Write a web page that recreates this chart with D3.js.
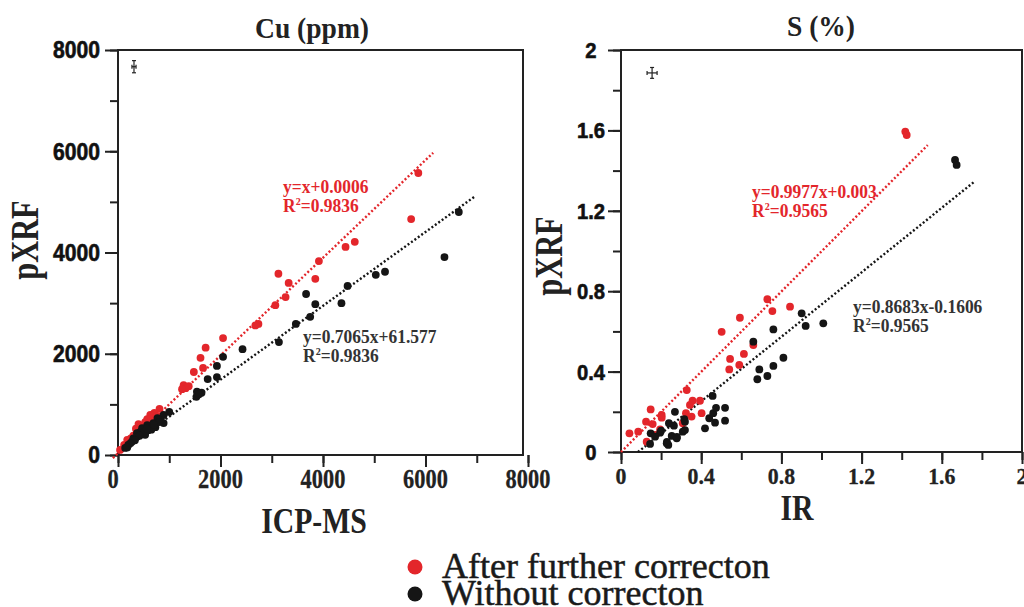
<!DOCTYPE html>
<html>
<head>
<meta charset="utf-8">
<script src="https://cdnjs.cloudflare.com/ajax/libs/d3/7.8.5/d3.min.js"></script>
<style>
    body { margin: 0; background: #fff; }
    svg { display: block; }
</style>
</head>
<body>
<div id="chart"></div>
<script>
// Cu (ppm): [ICP-MS, pXRF]
var cuAfter = [
    [5860, 5570], [5720, 4660], [4620, 4210], [4440, 4110], [3920, 3830], [3850, 3480],
    [3130, 3580], [3330, 3400], [3270, 3120], [3070, 2960], [2740, 2590], [2680, 2560],
    [2050, 2310], [1710, 2120], [1610, 1920], [1660, 1720], [1480, 1640], [1280, 1380],
    [1320, 1320], [1380, 1360], [1250, 1300],
    [810, 910], [710, 830], [750, 770], [630, 790], [570, 710], [530, 650], [690, 710],
    [470, 550], [410, 510], [400, 610], [370, 450], [300, 380], [180, 300], [120, 200],
    [40, 100], [480, 500], [600, 620], [350, 520], [250, 330], [560, 560]
];
var cuWithout = [
    [6650, 4800], [6370, 3910], [5210, 3620], [5030, 3560], [4480, 3340], [4360, 3000],
    [3850, 2980], [3670, 3180], [3750, 2730], [3470, 2590], [3140, 2230], [2430, 2090],
    [2050, 1940], [1930, 1760], [1930, 1540], [1750, 1500], [1540, 1250], [1630, 1230],
    [1530, 1150], [1580, 1200],
    [1000, 850], [890, 790], [890, 630], [830, 690], [770, 730], [690, 630], [630, 550],
    [570, 590], [490, 490], [430, 450], [530, 400], [370, 360], [300, 330], [270, 260],
    [200, 200], [140, 140], [370, 430], [470, 530], [590, 490], [730, 550], [650, 500],
    [520, 470], [420, 380], [330, 290], [240, 230], [180, 150], [800, 650], [560, 520], [700, 600]
];
// fitted lines, end points
var cuFitAfter = [[-100, -60], [6150, 5970]];
var cuFitWithout = [[0, 30], [6980, 5120]];
var cuEqAfter = ["y=x+0.0006", "0.9836"];
var cuEqWithout = ["y=0.7065x+61.577", "0.9836"];
var cuErr = [312, 7670, 40, 120]; // x, y, half width x, half width y
var cuTicks = [0, 1000, 2000, 3000, 4000, 5000, 6000, 7000, 8000];
var cuLabels = [0, 2000, 4000, 6000, 8000];

// S (%): [IR, pXRF]
var sAfter = [
    [0.042, 0.093], [0.086, 0.101], [0.125, 0.151], [0.148, 0.212], [0.158, 0.139],
    [0.128, 0.051], [0.17, 0.085], [0.203, 0.184], [0.203, 0.171], [0.195, 0.113],
    [0.328, 0.308], [0.324, 0.193], [0.308, 0.143], [0.344, 0.234], [0.357, 0.255],
    [0.352, 0.176], [0.394, 0.255], [0.402, 0.193], [0.502, 0.598], [0.544, 0.463],
    [0.540, 0.411], [0.593, 0.668], [0.590, 0.433], [0.613, 0.488], [0.660, 0.532],
    [0.730, 0.760], [0.755, 0.701], [0.843, 0.723], [1.418, 1.594], [1.425, 1.577]
];
var sWithout = [
    [0.148, 0.093], [0.145, 0.040], [0.195, 0.096], [0.17, 0.076], [0.239, 0.143],
    [0.269, 0.200], [0.264, 0.131], [0.228, 0.043], [0.236, 0.035], [0.253, 0.080],
    [0.278, 0.068], [0.308, 0.101], [0.316, 0.163], [0.319, 0.151], [0.419, 0.118],
    [0.440, 0.168], [0.457, 0.279], [0.460, 0.193], [0.469, 0.146], [0.474, 0.220],
    [0.519, 0.220], [0.519, 0.156], [0.66, 0.549], [0.68, 0.362], [0.69, 0.411],
    [0.73, 0.378], [0.76, 0.610], [0.76, 0.428], [0.81, 0.469], [0.901, 0.690],
    [0.921, 0.627], [1.009, 0.640], [1.666, 1.453], [1.674, 1.428],
    [0.2, 0.106], [0.229, 0.05], [0.319, 0.109], [0.279, 0.075]
];
var sFitAfter = [[0, 0], [1.53, 1.527]];
var sFitWithout = [[0.085, 0], [1.76, 1.343]];
var sEqAfter = ["y=0.9977x+0.003", "0.9565"];
var sEqWithout = ["y=0.8683x-0.1606", "0.9565"];
var sErr = [0.155, 1.886, 0.025, 0.027];
var sTicks = [0, 0.2, 0.4, 0.6, 0.8, 1, 1.2, 1.4, 1.6, 1.8, 2];
var sLabels = [0, 0.4, 0.8, 1.2, 1.6, 2];

var legendNames = ["After further correcton", "Without correcton"];

var red = "#e3262b", black = "#151515", ink = "#222";
var serif = "'Liberation Serif', 'Times New Roman', serif";
var sans = "'Liberation Sans', Arial, sans-serif";

var svg = d3.select("#chart").append("svg")
    .attr("width", 1024)
    .attr("height", 607);

// text squeezed along its own reading direction
function addText(g, str, x, y, o) {
    var tr = "translate(" + x + "," + y + ")";
    if (o.rotate) tr += " rotate(" + o.rotate + ")";
    tr += " scale(" + (o.sx || 1) + ",1)";
    var t = g.append("text")
        .attr("transform", tr)
        .attr("text-anchor", o.anchor || "middle")
        .style("font-family", o.family || serif)
        .style("font-size", o.size + "px")
        .style("font-weight", o.weight || "bold")
        .style("fill", o.color || ink)
        .text(str);
    if (o.heavy) t.style("stroke", o.color || ink).style("stroke-width", o.heavy);
    return t;
}

function fitLabel(g, eq, x, y, color) {
    var t = g.append("text")
        .attr("transform", "translate(" + x + "," + y + ") scale(0.92,1)")
        .style("font-family", serif)
        .style("font-size", "19px")
        .style("font-weight", "bold")
        .style("fill", color);
    t.append("tspan").attr("x", 0).attr("y", 0).text(eq[0]);
    t.append("tspan").attr("x", 0).attr("y", 19).text("R");
    t.append("tspan").attr("dy", -7).style("font-size", "11px").text("2");
    t.append("tspan").attr("dy", 7).text("=" + eq[1]);
}

function drawPanel(p) {
    var x = d3.scaleLinear().domain(p.xDomain).range([p.left, p.xEnd]);
    var y = d3.scaleLinear().domain(p.yDomain).range([p.bottom, p.top]);
    var g = svg.append("g");

    // ticks: minor (all) and major (labelled) on both axes
    function ticks(axis, vals, size, at) {
        var a = g.append("g").attr("transform", at)
            .call(axis.tickValues(vals).tickSize(size).tickFormat(""));
        a.select(".domain").remove();
        a.selectAll("line").attr("stroke", ink).attr("stroke-width", 2);
    }
    ticks(d3.axisBottom(x), p.xTicks, 8, "translate(0," + p.bottom + ")");
    ticks(d3.axisBottom(x), p.xLabels, 12, "translate(0," + p.bottom + ")");
    ticks(d3.axisLeft(y), p.yTicks, 8, "translate(" + p.left + ",0)");
    ticks(d3.axisLeft(y), p.yLabels, 13, "translate(" + p.left + ",0)");

    // frame
    g.append("rect")
        .attr("x", p.left).attr("y", p.top)
        .attr("width", p.right - p.left).attr("height", p.bottom - p.top)
        .attr("fill", "none").attr("stroke", ink).attr("stroke-width", 2);

    // tick labels
    p.xLabels.forEach(function (v) {
        addText(g, p.fmt(v), x(v) + (v === 0 ? p.zeroShift : 0), p.xLabelY,
            {size: p.xFont, sx: p.xSx, heavy: 0.3});
    });
    p.yLabels.forEach(function (v) {
        addText(g, p.fmt(v), p.yLabelX, y(v) + p.yFont * 0.36,
            {size: p.yFont, sx: 0.92, family: sans, anchor: p.yAnchor, color: "#111", heavy: 0.6});
    });

    // fitted lines
    var line = d3.line().x(function (d) { return x(d[0]); }).y(function (d) { return y(d[1]); });
    [[p.fitAfter, red], [p.fitWithout, black]].forEach(function (f) {
        g.append("path").attr("d", line(f[0]))
            .attr("fill", "none").attr("stroke", f[1])
            .attr("stroke-width", 2.4).attr("stroke-dasharray", "2,2.2");
    });

    // points
    [[p.after, red], [p.without, black]].forEach(function (s) {
        g.append("g").selectAll("circle").data(s[0]).enter().append("circle")
            .attr("cx", function (d) { return x(d[0]); })
            .attr("cy", function (d) { return y(d[1]); })
            .attr("r", 3.9)
            .attr("fill", s[1]);
    });

    // error bar marker
    var e = p.err;
    var ex0 = x(e[0] - e[2]), ex1 = x(e[0] + e[2]), ey0 = y(e[1] - e[3]), ey1 = y(e[1] + e[3]);
    var cx = x(e[0]), cy = y(e[1]);
    var eb = g.append("g").attr("stroke", ink).attr("stroke-width", 1.2);
    eb.append("line").attr("x1", cx).attr("x2", cx).attr("y1", ey0).attr("y2", ey1);
    eb.append("line").attr("x1", ex0).attr("x2", ex1).attr("y1", cy).attr("y2", cy);
    eb.append("line").attr("x1", cx - 2).attr("x2", cx + 2).attr("y1", ey0).attr("y2", ey0);
    eb.append("line").attr("x1", cx - 2).attr("x2", cx + 2).attr("y1", ey1).attr("y2", ey1);
    eb.append("line").attr("x1", ex0).attr("x2", ex0).attr("y1", cy - 2).attr("y2", cy + 2);
    eb.append("line").attr("x1", ex1).attr("x2", ex1).attr("y1", cy - 2).attr("y2", cy + 2);

    fitLabel(g, p.eqAfter, p.eqAfterAt[0], p.eqAfterAt[1], red);
    fitLabel(g, p.eqWithout, p.eqWithoutAt[0], p.eqWithoutAt[1], "#333");

    // titles
    addText(g, p.title, p.titleAt[0], p.titleAt[1], {size: 29, sx: 0.95});
    addText(g, p.xTitle, p.xTitleAt[0], p.xTitleAt[1], {size: 35, sx: 0.85});
    addText(g, "pXRF", p.yTitleAt[0], p.yTitleAt[1], {size: 40, sx: 0.76, rotate: -90});
}

drawPanel({
    left: 118, right: 523, top: 50, bottom: 455, xEnd: 528,
    xDomain: [0, 8000], yDomain: [0, 8000],
    xTicks: cuTicks, xLabels: cuLabels, yTicks: cuTicks, yLabels: cuLabels,
    fmt: function (v) { return String(v); },
    xFont: 28, xSx: 0.8, xLabelY: 488, zeroShift: -5,
    yFont: 23, yLabelX: 100, yAnchor: "end",
    after: cuAfter, without: cuWithout,
    fitAfter: cuFitAfter, fitWithout: cuFitWithout,
    eqAfter: cuEqAfter, eqWithout: cuEqWithout,
    eqAfterAt: [283, 193], eqWithoutAt: [303, 343],
    err: cuErr,
    title: "Cu (ppm)", titleAt: [312, 38],
    xTitle: "ICP-MS", xTitleAt: [314, 533],
    yTitleAt: [38, 240]
});

drawPanel({
    left: 621, right: 1022, top: 50, bottom: 452, xEnd: 1022,
    xDomain: [0, 2], yDomain: [0, 2],
    xTicks: sTicks, xLabels: sLabels, yTicks: sTicks, yLabels: sLabels,
    fmt: function (v) { return String(v); },
    xFont: 23, xSx: 0.95, xLabelY: 484, zeroShift: 0,
    yFont: 22, yLabelX: 591, yAnchor: "middle",
    after: sAfter, without: sWithout,
    fitAfter: sFitAfter, fitWithout: sFitWithout,
    eqAfter: sEqAfter, eqWithout: sEqWithout,
    eqAfterAt: [752, 198], eqWithoutAt: [853, 313],
    err: sErr,
    title: "S (%)", titleAt: [821, 36],
    xTitle: "IR", xTitleAt: [797, 520],
    yTitleAt: [562, 256]
});

// legend
var legend = svg.append("g");
legendNames.forEach(function (name, i) {
    var ly = 567 + i * 27;
    legend.append("circle").attr("cx", 415).attr("cy", ly).attr("r", 7.5)
        .attr("fill", i === 0 ? red : black);
    addText(legend, name, 442, ly + 11, {size: 36, weight: "normal", anchor: "start", color: "#1a1a1a", heavy: 0.5});
});
</script>
</body>
</html>
